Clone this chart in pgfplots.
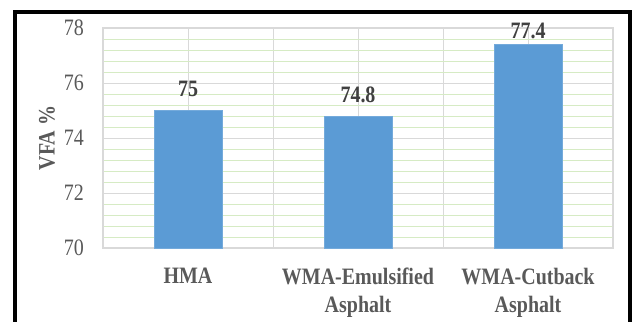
\documentclass[border=0pt]{standalone}
\usepackage{pgfplots}
\pgfplotsset{compat=1.18}
\usepackage{pgfplotstable}
\usepackage{fontspec}
\setmainfont[FakeStretch=0.85]{Liberation Serif}

\definecolor{barblue}{HTML}{5B9BD5}
\definecolor{majorgrid}{HTML}{D9D9D9}
\definecolor{minorgrid}{HTML}{D6EBC4}
\definecolor{labelgray}{HTML}{595959}
\definecolor{valuegray}{HTML}{404040}

% VFA per mix type; dy lifts each value label above its bar
\pgfplotstableread{
x  y     dy
0  75    22
1  74.8  21
2  77.4  14
}\vfa

\begin{document}
\begin{tikzpicture}
\begin{axis}[
  name=main,
  at={(0,0)}, anchor=south west,
  scale only axis, width=510bp, height=220bp,
  /pgf/number format/assume math mode=true,
  ymin=70, ymax=78,
  ytick={70,72,74,76,78},
  minor y tick num=4,
  xmin=-0.5, xmax=2.5,
  xtick={0,1,2},
  minor xtick={0.5,1.5},
  xticklabels={HMA,WMA-Emulsified\\Asphalt,WMA-Cutback\\Asphalt},
  ymajorgrids, yminorgrids, xmajorgrids, xminorgrids,
  major grid style={majorgrid, line width=1bp},
  minor y grid style={minorgrid, line width=1bp},
  minor x grid style={majorgrid, line width=1bp},
  axis line style={majorgrid, line width=1.2bp},
  major tick length=0pt, minor tick length=0pt,
  tick label style={font=\fontsize{23.5bp}{28bp}\selectfont, text=labelgray},
  yticklabel style={anchor=east, inner sep=0pt, xshift=-19bp},
  xticklabel style={anchor=north, inner sep=0pt, yshift=-20bp, align=center,
                    font=\fontsize{23.5bp}{28bp}\selectfont\bfseries},
  ylabel={VFA \%},
  ylabel style={at={(axis description cs:-0.11,0.5)}, anchor=center,
                font=\fontsize{23.5bp}{28bp}\selectfont\bfseries, text=labelgray},
  clip mode=individual,
]
\addplot[ybar, bar width=68bp, fill=barblue, draw=barblue!85!white,
  visualization depends on={\thisrow{dy} \as \dy},
  nodes near coords,
  every node near coord/.append style={anchor=center, yshift=\dy bp,
     font=\fontsize{23.5bp}{28bp}\selectfont\bfseries, text=valuegray}]
  table[x=x, y=y] {\vfa};
\end{axis}
% page area and the outer frame (open at the bottom), placed from the axis corner
\begin{scope}[shift={(main.south west)}, x=1bp, y=1bp]
  \pgfresetboundingbox
  \useasboundingbox (-103,-73) rectangle (530,248);
  \draw[line width=3.5bp] (-88,-90) -- (-88,236) -- (526.8,236) -- (526.8,-90);
\end{scope}
\end{tikzpicture}
\end{document}
